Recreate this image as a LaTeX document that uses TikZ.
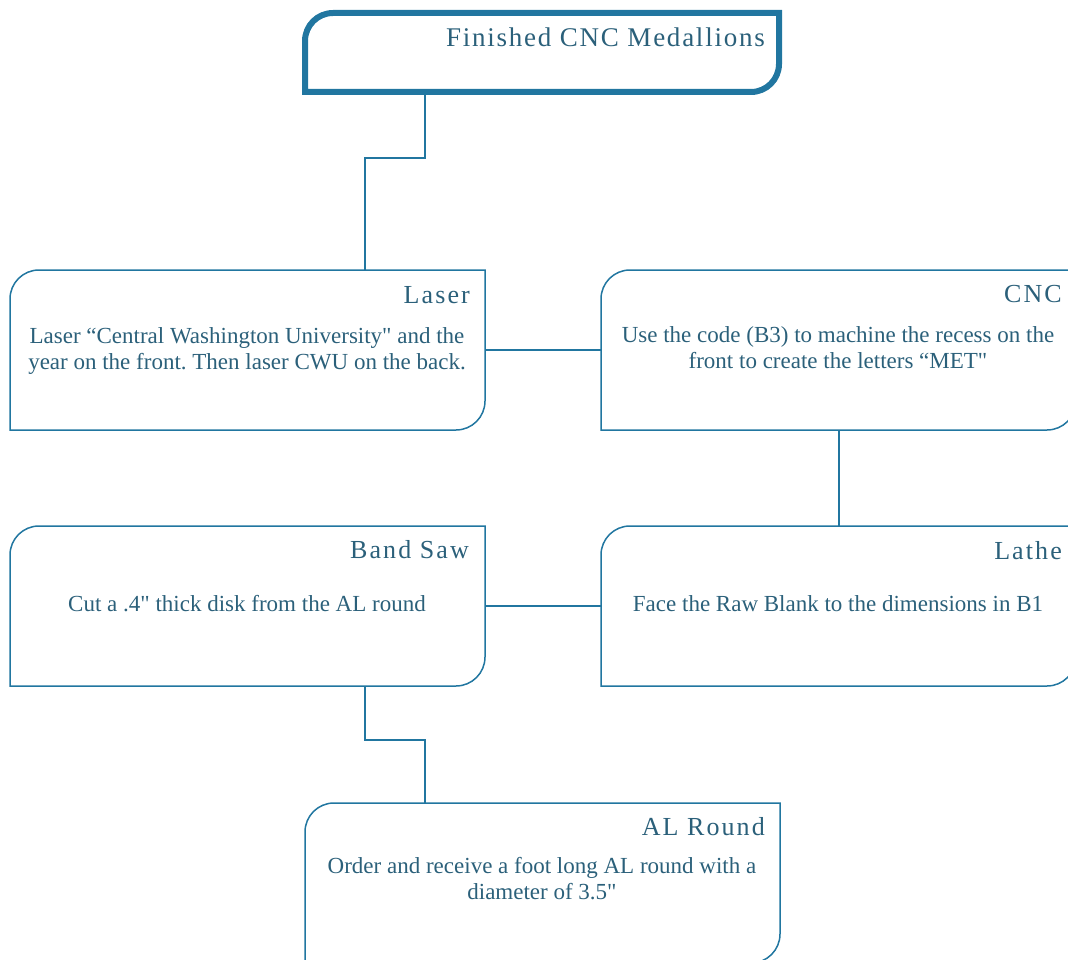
\documentclass[tikz,border=0pt]{standalone}
\usepackage{fontspec}
\setmainfont{Liberation Serif}
\newfontfamily\titlefont[LetterSpace=8]{Liberation Serif}
\newfontfamily\headfont[LetterSpace=6.5]{Liberation Serif}
\definecolor{edge}{RGB}{33,118,160}
\definecolor{ink}{RGB}{43,96,122}
\frenchspacing
\newcommand{\bodylines}[1]{\begin{tabular}[t]{@{}c@{}}#1\end{tabular}}
\newcommand{\inch}{\textquotedbl}
\newcommand{\stageframe}[3]{%
  \draw[draw=edge,line width=#2] (#1.south west) -- ([yshift=-#3]#1.north west)
    arc[start angle=180,end angle=90,radius=#3] -- (#1.north east)
    -- ([yshift=#3]#1.south east) arc[start angle=0,end angle=-90,radius=#3] -- cycle;}
\begin{document}
\begin{tikzpicture}[x=1pt,y=-1pt,
  stagebox/.style={rectangle,inner sep=0pt,outer sep=0pt,minimum width=475pt,minimum height=160pt},
  titletext/.style={anchor=base east,inner sep=0pt,text=ink,font=\titlefont\fontsize{26}{30}\selectfont},
  bodytext/.style={anchor=base,inner sep=0pt,text=ink,font=\frenchspacing\fontsize{23}{26}\selectfont},
  link/.style={draw=edge,line width=2pt}]
\useasboundingbox (0,0) rectangle (1068,960);
\clip (0,0) rectangle (1068,960);

% boxes
\node[rectangle,inner sep=0pt,outer sep=0pt,minimum width=474pt,minimum height=79pt] (top) at (542,52.5) {};
\node[stagebox] (laser) at (247.5,350) {};
\node[stagebox] (cnc) at (838.5,350) {};
\node[stagebox] (bandsaw) at (247.5,606) {};
\node[stagebox] (lathe) at (838.5,606) {};
\node[stagebox] (alround) at (542.5,883) {};

% connectors
\coordinate (j1) at (425,158);
\coordinate (j2) at (365,158);
\coordinate (j3) at (365,740);
\coordinate (j4) at (425,740);
\draw[link] (top.south -| j1) -- (j1) -- (j2) -- (laser.north -| j2);
\draw[link] (laser.east) -- (cnc.west);
\draw[link] (cnc.south) -- (lathe.north);
\draw[link] (bandsaw.east) -- (lathe.west);
\draw[link] (bandsaw.south -| j3) -- (j3) -- (j4) -- (alround.north -| j4);

% frames
\stageframe{top}{6pt}{28pt}
\stageframe{laser}{1.5pt}{29pt}
\stageframe{cnc}{1.5pt}{29pt}
\stageframe{bandsaw}{1.5pt}{29pt}
\stageframe{lathe}{1.5pt}{29pt}
\stageframe{alround}{1.5pt}{29pt}

% titles
\node[titletext,font=\headfont\fontsize{27}{30}\selectfont] (topT) at (765,47) {Finished CNC Medallions};
\node[titletext] (laserT) at (470,303) {Laser};
\node[titletext] (cncT) at (1062,302) {CNC};
\node[titletext] (bandsawT) at (469,558) {Band Saw};
\node[titletext] (latheT) at (1062,559) {Lathe};
\node[titletext] (alroundT) at (765,835) {AL Round};

% bodies
\node[bodytext] (laserB) at (247,343) {\bodylines{Laser “Central Washington University\inch{} and the\\year on the front. Then laser CWU on the back.}};
\node[bodytext] (cncB) at (838,342) {\bodylines{Use the code (B3) to machine the recess on the\\front to create the letters “MET\inch}};
\node[bodytext] (bandsawB) at (247,611) {\bodylines{Cut a .4\inch{} thick disk from the AL round}};
\node[bodytext] (latheB) at (838,611) {\bodylines{Face the Raw Blank to the dimensions in B1}};
\node[bodytext] (alroundB) at (542,873) {\bodylines{Order and receive a foot long AL round with a\\diameter of 3.5\inch}};
\end{tikzpicture}
\end{document}
